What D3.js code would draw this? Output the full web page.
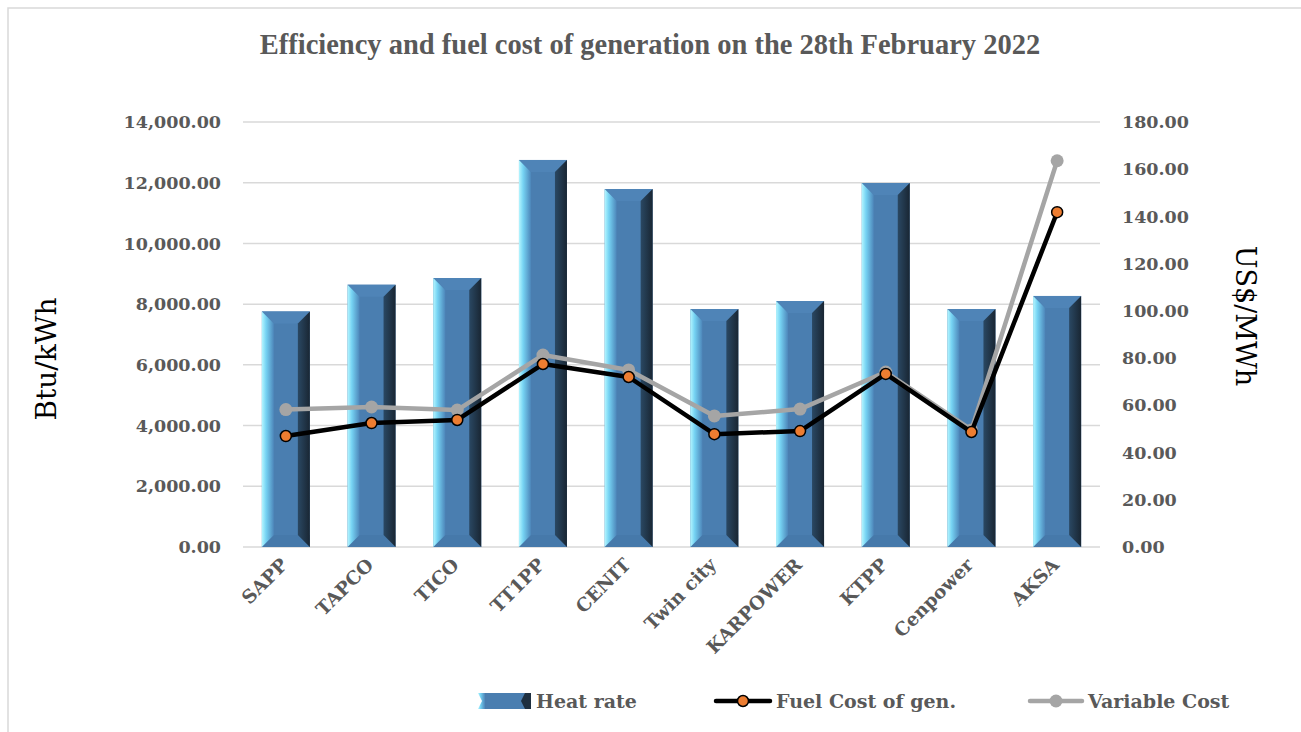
<!DOCTYPE html>
<html>
<head>
<meta charset="utf-8">
<script src="https://cdn.jsdelivr.net/npm/d3@7"></script>
<style>
  body { margin: 0; background: #fff; }
  svg { display: block; }
</style>
</head>
<body>
<div id="chart"></div>
<script>
// chart data
var categories = ["SAPP", "TAPCO", "TICO", "TT1PP", "CENIT", "Twin city", "KARPOWER", "KTPP", "Cenpower", "AKSA"];
var heat_rate = [7760, 8640, 8860, 12750, 11790, 7840, 8100, 11990, 7840, 8270];
var fuel_cost = [47.0, 52.5, 53.8, 77.5, 72.0, 47.8, 49.1, 73.3, 48.7, 141.8];
var variable_cost = [58.2, 59.3, 58.0, 81.3, 75.0, 55.5, 58.4, 74.1, 49.6, 163.6];
var left_ticks = [0, 2000, 4000, 6000, 8000, 10000, 12000, 14000];
var right_ticks = [0, 20, 40, 60, 80, 100, 120, 140, 160, 180];

var width = 1301, height = 732;
var margin = {left: 243, right: 201, top: 122, bottom: 185};
var grid_color = "#d9d9d9";
var text_color = "#595959";
var serif = "DejaVu Serif, serif";
var title_font = "Liberation Serif, serif";
var bevel = 12;

var svg = d3.select("#chart").append("svg")
  .attr("width", width)
  .attr("height", height)
  .attr("font-family", serif);

var defs = svg.append("defs");
var gl = defs.append("linearGradient").attr("id", "bevelLeft");
gl.append("stop").attr("offset", "0%").attr("stop-color", "#b5f6ff");
gl.append("stop").attr("offset", "35%").attr("stop-color", "#76d3f3");
gl.append("stop").attr("offset", "100%").attr("stop-color", "#4d86ba");
var gr = defs.append("linearGradient").attr("id", "bevelRight");
gr.append("stop").attr("offset", "0%").attr("stop-color", "#2a4863");
gr.append("stop").attr("offset", "100%").attr("stop-color", "#192633");

// light frame on top and left
svg.append("path")
  .attr("d", "M8,732 L8,8 L1301,8")
  .attr("fill", "none")
  .attr("stroke", grid_color)
  .attr("stroke-width", 1.5);

var x = d3.scaleBand()
  .domain(categories)
  .range([margin.left, width - margin.right])
  .paddingInner(0.44)
  .paddingOuter(0.22);
var yL = d3.scaleLinear().domain([0, 14000]).range([height - margin.bottom, margin.top]);
var yR = d3.scaleLinear().domain([0, 180]).range([height - margin.bottom, margin.top]);

// gridlines
svg.append("g").selectAll("line")
  .data(left_ticks)
  .enter().append("line")
    .attr("x1", margin.left)
    .attr("x2", width - margin.right)
    .attr("y1", function(d){ return yL(d); })
    .attr("y2", function(d){ return yL(d); })
    .attr("stroke", grid_color)
    .attr("stroke-width", 1.5);

// left axis labels
svg.append("g").selectAll("text")
  .data(left_ticks)
  .enter().append("text")
    .attr("x", 221)
    .attr("y", function(d){ return yL(d); })
    .attr("dy", "0.35em")
    .attr("text-anchor", "end")
    .attr("font-size", "17.5px")
    .attr("font-weight", "bold")
    .attr("fill", text_color)
    .text(function(d){ return d3.format(",.2f")(d); });

// right axis labels
svg.append("g").selectAll("text")
  .data(right_ticks)
  .enter().append("text")
    .attr("x", 1122)
    .attr("y", function(d){ return yR(d); })
    .attr("dy", "0.35em")
    .attr("text-anchor", "start")
    .attr("font-size", "17.5px")
    .attr("font-weight", "bold")
    .attr("fill", text_color)
    .text(function(d){ return d3.format(".2f")(d); });

// bars with bevelled edges
var bars = svg.append("g").selectAll("g")
  .data(categories)
  .enter().append("g");

bars.each(function(c, i){
  var g = d3.select(this);
  var x0 = x(c), x1 = x(c) + x.bandwidth();
  var y0 = yL(heat_rate[i]), y1 = yL(0);
  g.append("rect")
    .attr("x", x0).attr("y", y0)
    .attr("width", x1 - x0).attr("height", y1 - y0)
    .attr("fill", "#4a7eb0");
  g.append("polygon")
    .attr("points", [[x0, y0], [x1, y0], [x1 - bevel, y0 + bevel], [x0 + bevel, y0 + bevel]].join(" "))
    .attr("fill", "#4f84b7");
  g.append("polygon")
    .attr("points", [[x0, y1], [x1, y1], [x1 - bevel, y1 - bevel], [x0 + bevel, y1 - bevel]].join(" "))
    .attr("fill", "#4679aa");
  g.append("polygon")
    .attr("points", [[x0, y0], [x0 + bevel, y0 + bevel], [x0 + bevel, y1 - bevel], [x0, y1]].join(" "))
    .attr("fill", "url(#bevelLeft)");
  g.append("polygon")
    .attr("points", [[x1, y0], [x1 - bevel, y0 + bevel], [x1 - bevel, y1 - bevel], [x1, y1]].join(" "))
    .attr("fill", "url(#bevelRight)");
});

var cx = function(d, i){ return x(categories[i]) + x.bandwidth() / 2; };

// variable cost line
svg.append("path")
  .datum(variable_cost)
  .attr("fill", "none")
  .attr("stroke", "#a5a5a5")
  .attr("stroke-width", 4.5)
  .attr("stroke-linejoin", "round")
  .attr("d", d3.line().x(cx).y(function(d){ return yR(d); }));
svg.append("g").selectAll("circle")
  .data(variable_cost)
  .enter().append("circle")
    .attr("cx", cx)
    .attr("cy", function(d){ return yR(d); })
    .attr("r", 6.5)
    .attr("fill", "#a5a5a5");

// fuel cost line
svg.append("path")
  .datum(fuel_cost)
  .attr("fill", "none")
  .attr("stroke", "#000")
  .attr("stroke-width", 4.5)
  .attr("stroke-linejoin", "round")
  .attr("d", d3.line().x(cx).y(function(d){ return yR(d); }));
svg.append("g").selectAll("circle")
  .data(fuel_cost)
  .enter().append("circle")
    .attr("cx", cx)
    .attr("cy", function(d){ return yR(d); })
    .attr("r", 5.5)
    .attr("fill", "#ed7d31")
    .attr("stroke", "#000")
    .attr("stroke-width", 1.5);

// category labels
svg.append("g").selectAll("text")
  .data(categories)
  .enter().append("text")
    .attr("transform", function(d){ return "translate(" + (x(d) + x.bandwidth() / 2 + 3) + ",566) rotate(-45)"; })
    .attr("text-anchor", "end")
    .attr("font-size", "18.5px")
    .attr("font-weight", "bold")
    .attr("fill", text_color)
    .text(function(d){ return d; });

// title
svg.append("text")
  .attr("x", 650)
  .attr("y", 54)
  .attr("text-anchor", "middle")
  .attr("font-family", title_font)
  .attr("font-size", "28.5px")
  .attr("font-weight", "bold")
  .attr("fill", text_color)
  .text("Efficiency and fuel cost of generation on the 28th February 2022");

// axis titles
svg.append("text")
  .attr("transform", "translate(56,359) rotate(-90)")
  .attr("text-anchor", "middle")
  .attr("font-size", "28px")
  .attr("fill", "#000")
  .text("Btu/kWh");
svg.append("text")
  .attr("transform", "translate(1236,316) rotate(90)")
  .attr("text-anchor", "middle")
  .attr("font-size", "27px")
  .attr("fill", "#000")
  .text("US$/MWh");

// legend
var leg = svg.append("g");
var ly = 701;
leg.append("rect").attr("x", 484).attr("y", ly - 8).attr("width", 42).attr("height", 16).attr("fill", "#4a7eb0");
leg.append("polygon").attr("points", [[478, ly - 8], [485, ly - 8], [485, ly + 8], [478, ly + 8], [482, ly]].join(" ")).attr("fill", "url(#bevelLeft)");
leg.append("polygon").attr("points", [[525, ly - 8], [531, ly - 8], [531, ly + 8], [525, ly + 8], [521, ly]].join(" ")).attr("fill", "#1e2f40");
leg.append("text").attr("x", 536).attr("y", ly).attr("dy", "0.35em")
  .attr("font-size", "19px").attr("font-weight", "bold").attr("fill", text_color).text("Heat rate");

leg.append("line").attr("x1", 716).attr("x2", 770).attr("y1", ly).attr("y2", ly)
  .attr("stroke", "#000").attr("stroke-width", 4.5).attr("stroke-linecap", "round");
leg.append("circle").attr("cx", 743).attr("cy", ly).attr("r", 5.5)
  .attr("fill", "#ed7d31").attr("stroke", "#000").attr("stroke-width", 1.5);
leg.append("text").attr("x", 776).attr("y", ly).attr("dy", "0.35em")
  .attr("font-size", "19px").attr("font-weight", "bold").attr("fill", text_color).text("Fuel Cost of gen.");

leg.append("line").attr("x1", 1030).attr("x2", 1082).attr("y1", ly).attr("y2", ly)
  .attr("stroke", "#a5a5a5").attr("stroke-width", 4.5).attr("stroke-linecap", "round");
leg.append("circle").attr("cx", 1056).attr("cy", ly).attr("r", 6.5).attr("fill", "#a5a5a5");
leg.append("text").attr("x", 1088).attr("y", ly).attr("dy", "0.35em")
  .attr("font-size", "19px").attr("font-weight", "bold").attr("fill", text_color).text("Variable Cost");
</script>
</body>
</html>
